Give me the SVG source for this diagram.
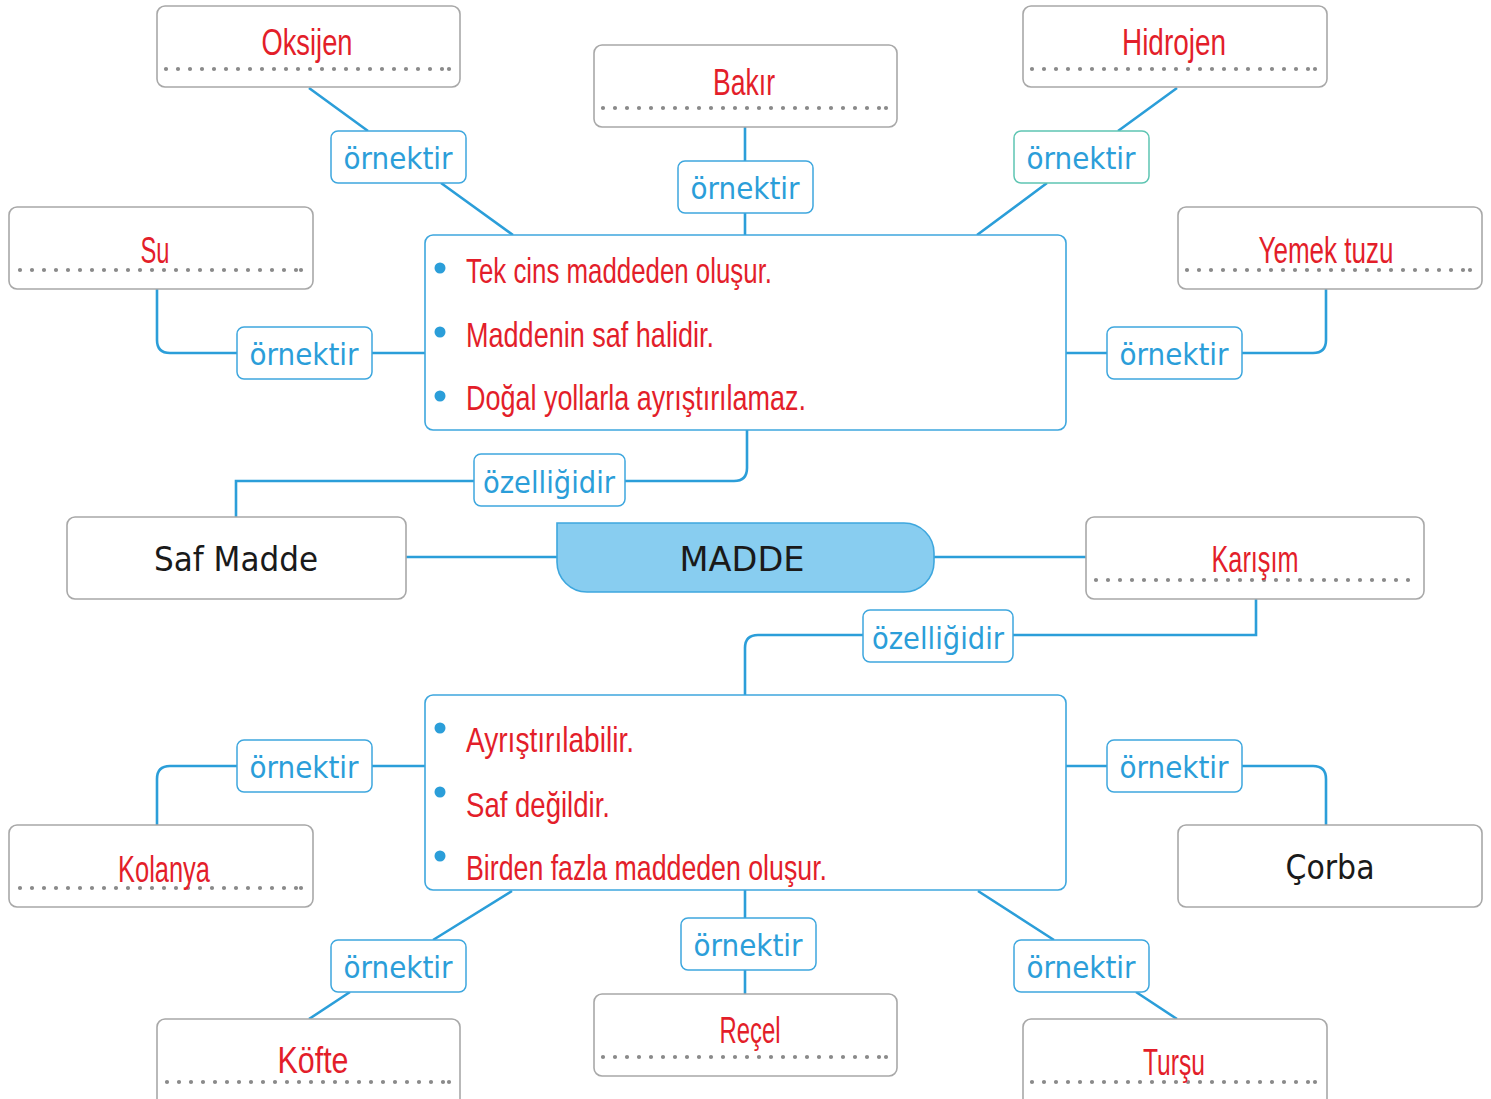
<svg xmlns="http://www.w3.org/2000/svg" width="1491" height="1099" viewBox="0 0 1491 1099">
<style>
.gbox{fill:#fff;stroke:#a8a8a8;stroke-width:1.6}
.pbox{fill:#fff;stroke:#3ea7de;stroke-width:1.6}
.lbox{fill:#fff;stroke:#3ea7de;stroke-width:1.5}
.tbox{fill:#fff;stroke:#5ec5b2;stroke-width:1.5}
.dots{stroke:#8a8a8a;stroke-width:4.2;stroke-linecap:round;stroke-dasharray:0 12;fill:none}
.dot{fill:#8a8a8a}
.red{font-family:"Liberation Sans",Arial,sans-serif;fill:#e31e2a;font-size:36px;text-anchor:middle}
.redl{font-family:"Liberation Sans",Arial,sans-serif;fill:#e31e2a;font-size:35px}
.lbl{font-family:"DejaVu Sans","Liberation Sans",sans-serif;fill:#2b9ed9;font-size:31px;text-anchor:middle}
.blk{font-family:"DejaVu Sans","Liberation Sans",sans-serif;fill:#1a1a1a;font-size:34px;text-anchor:middle}
.bul{fill:#2b9ed9}
.con{fill:none;stroke:#2b9ed9;stroke-width:2.6}
</style>

<g id="connectors">
<path class="con" d="M309,88 L368,131 M441,183 L513,235"/>
<path class="con" d="M745,127 V161 M745,213 V235"/>
<path class="con" d="M1177,88 L1118,131 M1047,183 L977,235"/>
<path class="con" d="M157,289 V340 Q157,353 170,353 H237 M372,353 H425"/>
<path class="con" d="M1326,289 V340 Q1326,353 1313,353 H1242 M1066,353 H1107"/>
<path class="con" d="M747,430 V468 Q747,481 734,481 H625 M474,481 H236 V517"/>
<path class="con" d="M406,557 H557 M934,557 H1086"/>
<path class="con" d="M1256,599 V635 H1013 M863,635 H758 Q745,635 745,648 V695"/>
<path class="con" d="M425,766 H372 M237,766 H170 Q157,766 157,779 V825"/>
<path class="con" d="M1066,766 H1107 M1242,766 H1313 Q1326,766 1326,779 V825"/>
<path class="con" d="M512,891 L433,940 M350,992 L309,1019"/>
<path class="con" d="M745,890 V918 M745,970 V994"/>
<path class="con" d="M978,891 L1054,940 M1136,992 L1177,1019"/>
</g>

<g id="oksijen"><rect class="gbox" x="157" y="6" width="303" height="81" rx="8"/><path class="dots" d="M166,69 H452"/><circle class="dot" cx="449" cy="69" r="2.1"/><text class="red" x="307" y="55" textLength="91" lengthAdjust="spacingAndGlyphs">Oksijen</text></g>
<g id="bakir"><rect class="gbox" x="594" y="45" width="303" height="82" rx="8"/><path class="dots" d="M603,108 H889"/><circle class="dot" cx="886" cy="108" r="2.1"/><text class="red" x="744" y="95" textLength="62" lengthAdjust="spacingAndGlyphs">Bakır</text></g>
<g id="hidrojen"><rect class="gbox" x="1023" y="6" width="304" height="81" rx="8"/><path class="dots" d="M1032,69 H1318"/><circle class="dot" cx="1315" cy="69" r="2.1"/><text class="red" x="1174" y="55" textLength="104" lengthAdjust="spacingAndGlyphs">Hidrojen</text></g>
<g id="su"><rect class="gbox" x="9" y="207" width="304" height="82" rx="8"/><path class="dots" d="M20,270 H304"/><circle class="dot" cx="301" cy="270" r="2.1"/><text class="red" x="155" y="263" textLength="29" lengthAdjust="spacingAndGlyphs">Su</text></g>
<g id="yemek-tuzu"><rect class="gbox" x="1178" y="207" width="304" height="82" rx="8"/><path class="dots" d="M1187,270 H1474"/><circle class="dot" cx="1470" cy="270" r="2.1"/><text class="red" x="1326" y="263" textLength="135" lengthAdjust="spacingAndGlyphs">Yemek tuzu</text></g>

<g id="saf-ozellik"><rect class="pbox" x="425" y="235" width="641" height="195" rx="8"/>
<circle class="bul" cx="440" cy="268" r="5.5"/><circle class="bul" cx="440" cy="332" r="5.5"/><circle class="bul" cx="440" cy="396" r="5.5"/>
<text class="redl" x="466" y="283" textLength="306" lengthAdjust="spacingAndGlyphs">Tek cins maddeden oluşur.</text>
<text class="redl" x="466" y="347" textLength="248" lengthAdjust="spacingAndGlyphs">Maddenin saf halidir.</text>
<text class="redl" x="466" y="410" textLength="340" lengthAdjust="spacingAndGlyphs">Doğal yollarla ayrıştırılamaz.</text></g>

<g id="saf-madde"><rect class="gbox" x="67" y="517" width="339" height="82" rx="8"/><text class="blk" x="236" y="571" textLength="164" lengthAdjust="spacingAndGlyphs">Saf Madde</text></g>
<g id="madde"><path d="M557,523 H904 A30,30 0 0 1 934,553 V562 A30,30 0 0 1 904,592 H587 A30,30 0 0 1 557,562 Z" fill="#88cdf0" stroke="#3ea7de" stroke-width="1.6"/><text class="blk" x="742" y="571" font-size="36" textLength="125" lengthAdjust="spacingAndGlyphs">MADDE</text></g>
<g id="karisim"><rect class="gbox" x="1086" y="517" width="338" height="82" rx="8"/><path class="dots" d="M1096,580 H1415"/><text class="red" x="1255" y="572" textLength="87" lengthAdjust="spacingAndGlyphs">Karışım</text></g>

<g id="karisim-ozellik"><rect class="pbox" x="425" y="695" width="641" height="195" rx="8"/>
<circle class="bul" cx="440" cy="728" r="5.5"/><circle class="bul" cx="440" cy="792" r="5.5"/><circle class="bul" cx="440" cy="856" r="5.5"/>
<text class="redl" x="466" y="752" textLength="168" lengthAdjust="spacingAndGlyphs">Ayrıştırılabilir.</text>
<text class="redl" x="466" y="817" textLength="144" lengthAdjust="spacingAndGlyphs">Saf değildir.</text>
<text class="redl" x="466" y="880" textLength="361" lengthAdjust="spacingAndGlyphs">Birden fazla maddeden oluşur.</text></g>

<g id="kolanya"><rect class="gbox" x="9" y="825" width="304" height="82" rx="8"/><path class="dots" d="M20,888 H304"/><circle class="dot" cx="301" cy="888" r="2.1"/><text class="red" x="164" y="882" textLength="92" lengthAdjust="spacingAndGlyphs">Kolanya</text></g>
<g id="corba"><rect class="gbox" x="1178" y="825" width="304" height="82" rx="8"/><text class="blk" x="1330" y="879" textLength="89" lengthAdjust="spacingAndGlyphs">Çorba</text></g>
<g id="kofte"><rect class="gbox" x="157" y="1019" width="303" height="90" rx="8"/><path class="dots" d="M167,1082 H452"/><circle class="dot" cx="449" cy="1082" r="2.1"/><text class="red" x="313" y="1073" textLength="71" lengthAdjust="spacingAndGlyphs">Köfte</text></g>
<g id="recel"><rect class="gbox" x="594" y="994" width="303" height="82" rx="8"/><path class="dots" d="M603,1057 H889"/><circle class="dot" cx="886" cy="1057" r="2.1"/><text class="red" x="750" y="1043" textLength="61" lengthAdjust="spacingAndGlyphs">Reçel</text></g>
<g id="tursu"><rect class="gbox" x="1023" y="1019" width="304" height="90" rx="8"/><path class="dots" d="M1032,1082 H1318"/><circle class="dot" cx="1315" cy="1082" r="2.1"/><text class="red" x="1174" y="1075" textLength="62" lengthAdjust="spacingAndGlyphs">Turşu</text></g>

<g id="l-oksijen"><rect class="lbox" x="331" y="131" width="135" height="52" rx="7"/><text class="lbl" x="398" y="169" textLength="109" lengthAdjust="spacingAndGlyphs">örnektir</text></g>
<g id="l-bakir"><rect class="lbox" x="678" y="161" width="135" height="52" rx="7"/><text class="lbl" x="745" y="199" textLength="109" lengthAdjust="spacingAndGlyphs">örnektir</text></g>
<g id="l-hidrojen"><rect class="tbox" x="1014" y="131" width="135" height="52" rx="7"/><text class="lbl" x="1081" y="169" textLength="109" lengthAdjust="spacingAndGlyphs">örnektir</text></g>
<g id="l-su"><rect class="lbox" x="237" y="327" width="135" height="52" rx="7"/><text class="lbl" x="304" y="365" textLength="109" lengthAdjust="spacingAndGlyphs">örnektir</text></g>
<g id="l-yemek"><rect class="lbox" x="1107" y="327" width="135" height="52" rx="7"/><text class="lbl" x="1174" y="365" textLength="109" lengthAdjust="spacingAndGlyphs">örnektir</text></g>
<g id="l-ozellik1"><rect class="lbox" x="474" y="454" width="151" height="52" rx="7"/><text class="lbl" x="549" y="493" textLength="132" lengthAdjust="spacingAndGlyphs">özelliğidir</text></g>
<g id="l-ozellik2"><rect class="lbox" x="863" y="610" width="150" height="52" rx="7"/><text class="lbl" x="938" y="649" textLength="132" lengthAdjust="spacingAndGlyphs">özelliğidir</text></g>
<g id="l-kolanya"><rect class="lbox" x="237" y="740" width="135" height="52" rx="7"/><text class="lbl" x="304" y="778" textLength="109" lengthAdjust="spacingAndGlyphs">örnektir</text></g>
<g id="l-corba"><rect class="lbox" x="1107" y="740" width="135" height="52" rx="7"/><text class="lbl" x="1174" y="778" textLength="109" lengthAdjust="spacingAndGlyphs">örnektir</text></g>
<g id="l-kofte"><rect class="lbox" x="331" y="940" width="135" height="52" rx="7"/><text class="lbl" x="398" y="978" textLength="109" lengthAdjust="spacingAndGlyphs">örnektir</text></g>
<g id="l-recel"><rect class="lbox" x="681" y="918" width="135" height="52" rx="7"/><text class="lbl" x="748" y="956" textLength="109" lengthAdjust="spacingAndGlyphs">örnektir</text></g>
<g id="l-tursu"><rect class="lbox" x="1014" y="940" width="135" height="52" rx="7"/><text class="lbl" x="1081" y="978" textLength="109" lengthAdjust="spacingAndGlyphs">örnektir</text></g>
</svg>
